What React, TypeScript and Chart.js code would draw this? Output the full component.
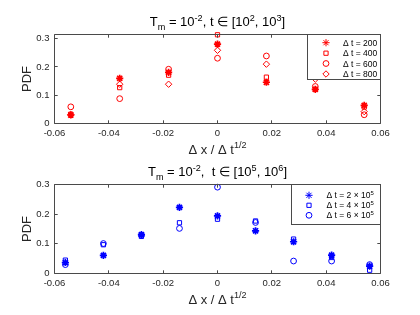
import React, { useEffect, useRef } from 'react';
import { Chart, registerables } from 'chart.js';
import { drawPoint } from 'chart.js/helpers';

Chart.register(...registerables);

const FONT = '"Liberation Sans", Arial, Helvetica, sans-serif';
const AXIS = '#262626';
const BOX = '#4a4a4a';
const RED = '#ff0000';
const BLUE = '#0000ff';

// ---- tick values / labels
const xTicks = [-0.06, -0.04, -0.02, 0, 0.02, 0.04, 0.06];
const xTickLabels = ['-0.06', '-0.04', '-0.02', '0', '0.02', '0.04', '0.06'];
const yTicks = [0, 0.1, 0.2, 0.3];
const yTickLabels = ['0', '0.1', '0.2', '0.3'];

// ---- top panel data (t in [1e2, 1e3])
const topX = [-0.054, -0.036, -0.018, 0, 0.018, 0.036, 0.054];
const topDt200 = [0.030, 0.160, 0.181, 0.281, 0.146, 0.121, 0.064];
const topDt400 = [0.033, 0.127, 0.171, 0.314, 0.164, 0.121, 0.058];
const topDt600 = [0.059, 0.088, 0.192, 0.231, 0.239, 0.131, 0.031];
const topDt800 = [0.031, 0.139, 0.139, 0.259, 0.210, 0.157, 0.042];

// ---- bottom panel data (t in [1e5, 1e6])
const botX = [-0.056, -0.042, -0.028, -0.014, 0, 0.014, 0.028, 0.042, 0.056];
const botDt2e5 = [0.037, 0.061, 0.131, 0.223, 0.194, 0.144, 0.107, 0.062, 0.025];
const botDt4e5 = [0.045, 0.097, 0.125, 0.171, 0.183, 0.177, 0.116, 0.054, 0.011];
const botDt6e5 = [0.030, 0.101, 0.129, 0.152, 0.291, 0.172, 0.042, 0.042, 0.030];

type Seg = { t: string; s?: 'sub' | 'sup' };

const topTitle: Seg[] = [
  { t: 'T' }, { t: 'm', s: 'sub' }, { t: ' = 10' }, { t: '-2', s: 'sup' },
  { t: ', t \u2208 [10' }, { t: '2', s: 'sup' }, { t: ', 10' }, { t: '3', s: 'sup' }, { t: ']' },
];
const botTitle: Seg[] = [
  { t: 'T' }, { t: 'm', s: 'sub' }, { t: ' = 10' }, { t: '-2', s: 'sup' },
  { t: ',  t \u2208 [10' }, { t: '5', s: 'sup' }, { t: ', 10' }, { t: '6', s: 'sup' }, { t: ']' },
];
const xLabel: Seg[] = [{ t: '\u0394 x / \u0394 t' }, { t: '1/2', s: 'sup' }];
const yLabel = 'PDF';

const topLegendLabels: Seg[][] = [
  [{ t: '\u0394 t = 200' }],
  [{ t: '\u0394 t = 400' }],
  [{ t: '\u0394 t = 600' }],
  [{ t: '\u0394 t = 800' }],
];
const botLegendLabels: Seg[][] = [
  [{ t: '\u0394 t = 2 \u00d7 10' }, { t: '5', s: 'sup' }],
  [{ t: '\u0394 t = 4 \u00d7 10' }, { t: '5', s: 'sup' }],
  [{ t: '\u0394 t = 6 \u00d7 10' }, { t: '5', s: 'sup' }],
];

function richWidth(ctx: CanvasRenderingContext2D, segs: Seg[], size: number) {
  let w = 0;
  for (const sg of segs) {
    const fs = sg.s ? size * 0.7 : size;
    ctx.font = `${fs}px ${FONT}`;
    w += ctx.measureText(sg.t).width;
  }
  return w;
}

function drawRich(ctx: CanvasRenderingContext2D, segs: Seg[], x: number, y: number, size: number, align: 'left' | 'center', color: string) {
  const w = richWidth(ctx, segs, size);
  let cx = align === 'center' ? x - w / 2 : x;
  ctx.fillStyle = color;
  ctx.textBaseline = 'alphabetic';
  ctx.textAlign = 'left';
  for (const sg of segs) {
    const fs = sg.s ? size * 0.7 : size;
    ctx.font = `${fs}px ${FONT}`;
    const dy = sg.s === 'sub' ? size * 0.3 : sg.s === 'sup' ? -size * 0.42 : 0;
    ctx.fillText(sg.t, cx, y + dy);
    cx += ctx.measureText(sg.t).width;
  }
}

type MarkerDef = { style: string; radius: number; width: number };
const MARK: Record<string, MarkerDef> = {
  star: { style: 'star', radius: 3.6, width: 1.7 },
  rect: { style: 'rect', radius: 3.0, width: 1 },
  circle: { style: 'circle', radius: 2.9, width: 1 },
  rectRot: { style: 'rectRot', radius: 3.2, width: 1 },
};

type PanelCfg = {
  title: Seg[];
  legend: { labels: Seg[][]; markers: string[]; color: string; box: [number, number, number, number]; rows: number[]; markerX: number; textX: number };
  height: number;
  yMax: number;
};

function makeDecor(cfg: PanelCfg) {
  return {
    id: 'decor',
    afterDraw(chart: any) {
      const ctx: CanvasRenderingContext2D = chart.ctx;
      const a = chart.chartArea;
      const xs = chart.scales.x;
      const ys = chart.scales.y;
      ctx.save();
      // box
      ctx.strokeStyle = BOX;
      ctx.lineWidth = 1;
      ctx.beginPath();
      ctx.rect(a.left, a.top, a.right - a.left, a.bottom - a.top);
      ctx.stroke();
      // inward ticks
      const tl = 3.2;
      ctx.beginPath();
      for (const v of xTicks) {
        const px = Math.floor(xs.getPixelForValue(v)) + 0.5;
        ctx.moveTo(px, a.bottom); ctx.lineTo(px, a.bottom - tl);
        ctx.moveTo(px, a.top); ctx.lineTo(px, a.top + tl);
      }
      for (const v of yTicks) {
        if (v > cfg.yMax) continue;
        const py = Math.floor(ys.getPixelForValue(v)) + 0.5;
        ctx.moveTo(a.left, py); ctx.lineTo(a.left + tl, py);
        ctx.moveTo(a.right, py); ctx.lineTo(a.right - tl, py);
      }
      ctx.stroke();

      // title
      const cxm = (a.left + a.right) / 2;
      drawRich(ctx, cfg.title, cxm, a.top - 8.5, 13, 'center', '#000');
      // x label
      drawRich(ctx, xLabel, cxm, a.bottom + 30, 13, 'center', AXIS);
      // y label
      ctx.save();
      ctx.translate(31, (a.top + a.bottom) / 2);
      ctx.rotate(-Math.PI / 2);
      ctx.font = `13px ${FONT}`;
      ctx.fillStyle = AXIS;
      ctx.textAlign = 'center';
      ctx.textBaseline = 'alphabetic';
      ctx.fillText(yLabel, 0, 0);
      ctx.restore();

      // legend
      const L = cfg.legend;
      const [bx0, by0, bx1, by1] = L.box;
      ctx.fillStyle = '#ffffff';
      ctx.fillRect(bx0, by0, bx1 - bx0, by1 - by0);
      ctx.strokeStyle = BOX;
      ctx.lineWidth = 1;
      ctx.strokeRect(bx0, by0, bx1 - bx0, by1 - by0);
      L.labels.forEach((lab, i) => {
        const m = MARK[L.markers[i]];
        const yy = L.rows[i];
        ctx.strokeStyle = L.color;
        ctx.fillStyle = 'rgba(0,0,0,0)';
        drawPoint(ctx, { pointStyle: m.style as any, radius: m.radius, borderWidth: m.width, rotation: 0 } as any, L.markerX, yy);
        drawRich(ctx, lab, L.textX, yy + 3, 8.5, 'left', '#000');
      });
      ctx.restore();
    },
  };
}

function ds(x: number[], y: number[], mk: string, color: string) {
  const m = MARK[mk];
  return {
    data: x.map((xv, i) => ({ x: xv, y: y[i] })),
    showLine: false,
    pointStyle: m.style,
    pointRadius: m.radius,
    pointBorderWidth: m.width,
    pointBorderColor: color,
    pointBackgroundColor: 'rgba(0,0,0,0)',
    borderColor: color,
    backgroundColor: 'rgba(0,0,0,0)',
    clip: false,
  };
}

function buildConfig(datasets: any[], cfg: PanelCfg, areaTop: number, areaBottom: number) {
  return {
    type: 'scatter',
    data: { datasets },
    options: {
      responsive: false,
      animation: false,
      devicePixelRatio: 1,
      events: [],
      layout: { padding: { top: areaTop, right: 39.5, left: 0, bottom: 0 } },
      plugins: { legend: { display: false }, title: { display: false }, tooltip: { enabled: false } },
      scales: {
        x: {
          type: 'linear',
          min: -0.06,
          max: 0.06,
          grid: { display: false, drawTicks: false },
          border: { display: false },
          afterBuildTicks: (s: any) => { s.ticks = xTicks.map((v) => ({ value: v })); },
          afterFit: (s: any) => { s.height = cfg.height - areaBottom; },
          ticks: {
            callback: (_v: any, i: number) => xTickLabels[i],
            font: { family: FONT, size: 9.5 },
            color: AXIS,
            padding: 4,
            maxRotation: 0,
            autoSkip: false,
          },
        },
        y: {
          type: 'linear',
          min: 0,
          max: cfg.yMax,
          grid: { display: false, drawTicks: false },
          border: { display: false },
          afterBuildTicks: (s: any) => { s.ticks = yTicks.filter((v) => v <= cfg.yMax + 1e-9).map((v) => ({ value: v })); },
          afterFit: (s: any) => { s.width = 54.5; },
          ticks: {
            callback: (_v: any, i: number) => yTickLabels[i],
            font: { family: FONT, size: 9.5 },
            color: AXIS,
            padding: 5,
            autoSkip: false,
          },
        },
      },
    },
    plugins: [makeDecor(cfg)],
  };
}

function Panel(props: { datasets: any[]; cfg: PanelCfg; top: number; areaTop: number; areaBottom: number }) {
  const ref = useRef<HTMLCanvasElement | null>(null);
  useEffect(() => {
    const c = ref.current!;
    const chart = new Chart(c, buildConfig(props.datasets, props.cfg, props.areaTop, props.areaBottom) as any);
    return () => chart.destroy();
  }, []);
  return (
    <canvas
      ref={ref}
      width={420}
      height={props.cfg.height}
      style={{ position: 'absolute', left: 0, top: props.top, width: 420, height: props.cfg.height, display: 'block' }}
    />
  );
}

export default function App() {
  const topCfg: PanelCfg = {
    title: topTitle,
    height: 158,
    yMax: 0.315,
    legend: {
      labels: topLegendLabels,
      markers: ['star', 'rect', 'circle', 'rectRot'],
      color: RED,
      box: [307.5, 34.5, 380.5, 79.5],
      rows: [42.7, 53.2, 63.5, 74],
      markerX: 326,
      textX: 343,
    },
  };
  const botCfg: PanelCfg = {
    title: botTitle,
    height: 157,
    yMax: 0.3,
    legend: {
      labels: botLegendLabels,
      markers: ['star', 'rect', 'circle'],
      color: BLUE,
      box: [291.5, 26.5, 380.5, 66.5],
      rows: [37.3, 47.3, 57.3],
      markerX: 309,
      textX: 326.5,
    },
  };
  const topSets = [
    ds(topX, topDt200, 'star', RED),
    ds(topX, topDt400, 'rect', RED),
    ds(topX, topDt600, 'circle', RED),
    ds(topX, topDt800, 'rectRot', RED),
  ];
  const botSets = [
    ds(botX, botDt2e5, 'star', BLUE),
    ds(botX, botDt4e5, 'rect', BLUE),
    ds(botX, botDt6e5, 'circle', BLUE),
  ];
  return (
    <div style={{ position: 'absolute', left: 0, top: 0, width: 420, height: 315, background: '#fff', overflow: 'hidden' }}>
      <Panel datasets={topSets} cfg={topCfg} top={0} areaTop={34.5} areaBottom={123.5} />
      <Panel datasets={botSets} cfg={botCfg} top={158} areaTop={26.5} areaBottom={115.5} />
    </div>
  );
}
